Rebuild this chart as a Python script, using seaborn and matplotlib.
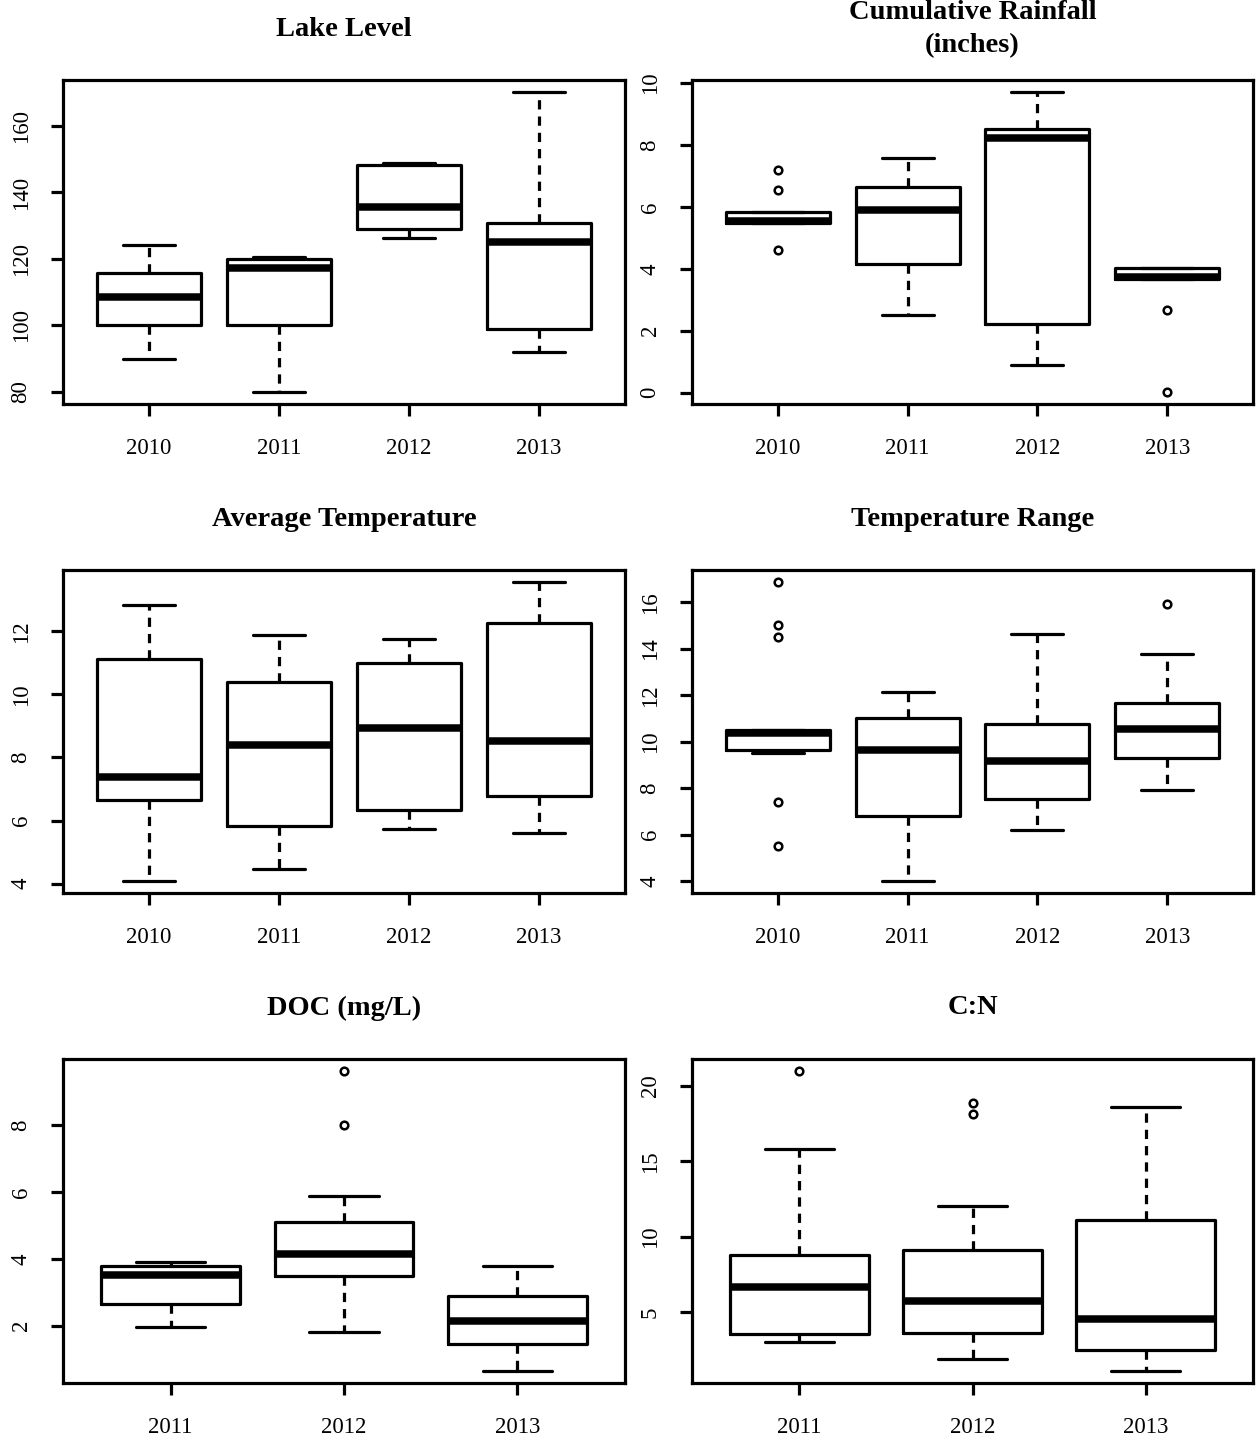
import numpy as np
import pandas as pd
import matplotlib
matplotlib.use("Agg")
import matplotlib.pyplot as plt
import matplotlib.transforms as mtransforms
import seaborn as sns

# ---- data -----------------------------------------------------------------
years_4 = ["2010", "2011", "2012", "2013"]
years_3 = ["2011", "2012", "2013"]

# per-year summaries: (lower whisker, Q1, median, Q3, upper whisker)
lake_level_stats = [
    (90.0, 100.0, 108.6, 115.8, 124.2),
    (80.0, 100.0, 117.2, 119.9, 120.7),
    (126.3, 129.1, 135.7, 148.3, 148.9),
    (92.1, 98.9, 125.2, 130.7, 170.2),
]
lake_level_outliers = [[], [], [], []]

rainfall_stats = [
    (5.47, 5.47, 5.55, 5.83, 5.83),
    (2.52, 4.15, 5.89, 6.65, 7.58),
    (0.89, 2.22, 8.24, 8.51, 9.71),
    (3.66, 3.66, 3.73, 4.02, 4.02),
]
rainfall_outliers = [[4.61, 6.56, 7.18], [], [], [0.02, 2.68]]

avg_temp_stats = [
    (4.08, 6.64, 7.38, 11.13, 12.83),
    (4.45, 5.84, 8.40, 10.39, 11.89),
    (5.74, 6.33, 8.95, 11.00, 11.77),
    (5.60, 6.78, 8.53, 12.28, 13.57),
]
avg_temp_outliers = [[], [], [], []]

temp_range_stats = [
    (9.51, 9.64, 10.37, 10.51, 10.51),
    (4.00, 6.80, 9.64, 11.02, 12.14),
    (6.19, 7.53, 9.15, 10.77, 14.63),
    (7.91, 9.31, 10.55, 11.68, 13.76),
]
temp_range_outliers = [[5.53, 7.40, 14.51, 15.04, 16.88], [], [], [15.92]]

doc_stats = [
    (1.95, 2.65, 3.50, 3.79, 3.91),
    (1.81, 3.48, 4.15, 5.11, 5.88),
    (0.64, 1.45, 2.15, 2.88, 3.78),
]
doc_outliers = [[], [7.99, 9.62], []]

cn_stats = [
    (2.98, 3.54, 6.66, 8.77, 15.80),
    (1.87, 3.58, 5.71, 9.12, 12.05),
    (1.08, 2.49, 4.56, 11.12, 18.59),
]
cn_outliers = [[20.99], [18.15, 18.88], []]

titles = ["Lake Level", "Cumulative Rainfall\n(inches)", "Average Temperature",
          "Temperature Range", "DOC (mg/L)", "C:N"]
yticks = [
    [80, 100, 120, 140, 160],
    [0, 2, 4, 6, 8, 10],
    [4, 6, 8, 10, 12],
    [4, 6, 8, 10, 12, 14, 16],
    [2, 4, 6, 8],
    [5, 10, 15, 20],
]


def build_sample(stats, outliers):
    """13 observations whose quartiles, whiskers and fliers reproduce the summary."""
    lo, q1, med, q3, hi = stats
    below = sorted(v for v in outliers if v < q1)
    above = sorted(v for v in outliers if v > q3)
    low_part = below + [lo] * (3 - len(below))
    high_part = [hi] * (3 - len(above)) + above
    return low_part + [q1, q1, q1, med, q3, q3, q3] + high_part


def make_frame(years, stats, outliers):
    rows = []
    for yr, st, out in zip(years, stats, outliers):
        for v in build_sample(st, out):
            rows.append({"year": yr, "value": v})
    return pd.DataFrame(rows)


panels = [
    make_frame(years_4, lake_level_stats, lake_level_outliers),
    make_frame(years_4, rainfall_stats, rainfall_outliers),
    make_frame(years_4, avg_temp_stats, avg_temp_outliers),
    make_frame(years_4, temp_range_stats, temp_range_outliers),
    make_frame(years_3, doc_stats, doc_outliers),
    make_frame(years_3, cn_stats, cn_outliers),
]
orders = [years_4, years_4, years_4, years_4, years_3, years_3]

# ---- style ----------------------------------------------------------------
sns.set_style("ticks")
plt.rcParams["font.family"] = ["Liberation Serif", "DejaVu Serif"]
plt.rcParams["axes.linewidth"] = 2.2
for key in ("text.color", "xtick.color", "ytick.color", "axes.labelcolor",
            "xtick.labelcolor", "ytick.labelcolor"):
    plt.rcParams[key] = "black"

W, H = 1256, 1441
fig = plt.figure(figsize=(W / 100, H / 100), dpi=100)

cols = [(63, 625), (692, 1253)]
rows = [(80, 404), (570, 893), (1059, 1383)]

LW = 2.3
for i, (df, order) in enumerate(zip(panels, orders)):
    r, c = divmod(i, 2)
    x0, x1 = cols[c]
    t0, t1 = rows[r]
    ax = fig.add_axes([x0 / W, (H - t1) / H, (x1 - x0) / W, (t1 - t0) / H])
    sns.boxplot(
        data=df, x="year", y="value", order=order, ax=ax,
        color="black", fill=False, width=0.8, linewidth=LW, whis=1.5,
        medianprops={"linewidth": 5.4, "color": "black", "solid_capstyle": "butt"},
        whiskerprops={"linestyle": (0, (2.9, 2.2)), "color": "black"},
        capprops={"linestyle": "-", "color": "black"},
        boxprops={"color": "black"},
        flierprops={"marker": "o", "markersize": 5.5, "markeredgewidth": 1.8,
                    "markerfacecolor": "none", "markeredgecolor": "black"},
    )
    n = len(order)
    ax.set_xlim(-0.5 - 0.04 * n, n - 0.5 + 0.04 * n)
    vmin, vmax = df["value"].min(), df["value"].max()
    pad = 0.04 * (vmax - vmin)
    ax.set_ylim(vmin - pad, vmax + pad)
    ax.set_yticks(yticks[i])
    ax.set_yticklabels([str(t) for t in yticks[i]], rotation=90, va="center")
    ax.set_xlabel("")
    ax.set_ylabel("")
    ax.tick_params(axis="both", length=8.6, width=LW, labelsize=16.5,
                   color="black", labelcolor="black")
    ax.tick_params(axis="x", pad=16)
    ax.tick_params(axis="y", pad=14)
    for s in ax.spines.values():
        s.set_visible(True)
        s.set_linewidth(LW)
        s.set_color("black")
    trans = mtransforms.offset_copy(ax.transAxes, fig=fig, y=51, units="dots")
    ax.text(0.5, 1.0, titles[i], transform=trans, ha="center", va="center",
            fontsize=20.5, fontweight="bold", linespacing=1.4, color="black")

fig.savefig("out.png", dpi=100, facecolor="white")
